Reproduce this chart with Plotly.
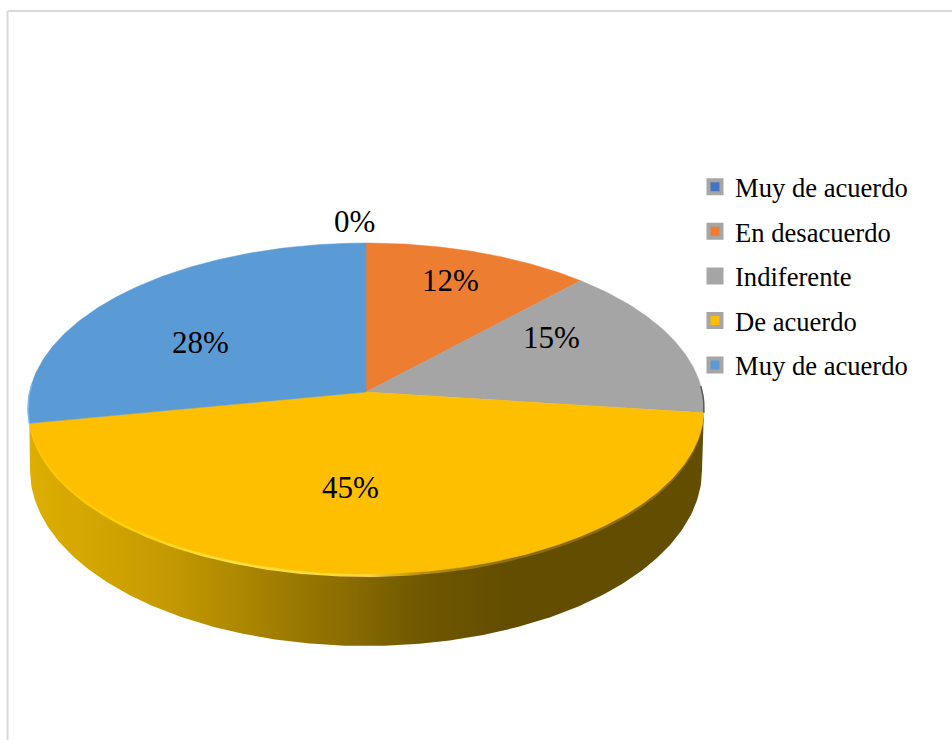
import numpy as np
import plotly.graph_objects as go

# ---- data ----
categories = ["Muy de acuerdo", "En desacuerdo", "Indiferente", "De acuerdo", "Muy de acuerdo"]
values = [0, 12, 15, 45, 28]
colors = ["#4472C4", "#ED7D31", "#A5A5A5", "#FDBF00", "#5B9BD5"]

# ---- layout / style settings ----
FONT = "Liberation Serif"
label_x = [354, 450, 551, 350, 200]
label_y = [221, 280, 337, 487, 342]
CX, CY = 366.0, 392.0        # projected pie centre
D, A, C = 336.3, 163.85, 0.0997   # perspective of the disc
BOT_CY, BOT_RX, BOT_RY = 470.0, 336.0, 176.0  # lower edge of the wall
wall_stops = [(0.0, "#DCAE00"), (0.09, "#D4A600"), (0.20, "#C59A00"), (0.32, "#AB8600"),
              (0.45, "#8F7000"), (0.58, "#705800"), (0.71, "#634D00"), (1.0, "#634D00")]
rim_stops = [(0.0, "#FFC800"), (0.12, "#FFD000"), (0.30, "#FFE040"), (0.50, "#FFD83A"),
             (0.58, "#B89000"), (0.72, "#8A6C00"), (1.0, "#8A6C00")]


def project(frac):
    """Disc edge at a clockwise share of the circle from 12 o'clock, to screen axes."""
    a = 2 * np.pi * np.asarray(frac)
    u, v = np.sin(a), np.cos(a)
    w = 1 + C * v
    return CX + D * u / w, CY - A * v / w


cum = np.concatenate([[0], np.cumsum(values)]) / sum(values)
fig = go.Figure()

# wall under the front arc: it belongs to the "De acuerdo" slice
t = np.linspace(cum[3], cum[4], 240)
ax, ay = project(t)
bx = np.clip(ax, CX - BOT_RX, CX + BOT_RX)
by = BOT_CY + BOT_RY * np.sqrt(np.clip(1 - ((bx - CX) / BOT_RX) ** 2, 0, 1))
fig.add_trace(go.Scatter(
    x=np.concatenate([ax, bx[::-1]]), y=np.concatenate([ay, by[::-1]]),
    mode="lines", line=dict(width=0), fill="toself",
    fillgradient=dict(type="horizontal", colorscale=[list(s) for s in wall_stops]),
    hoverinfo="skip", showlegend=False))

# light rim of the front arc
fig.add_trace(go.Scatter(
    x=np.concatenate([ax, ax[::-1]]), y=np.concatenate([ay - 0.5, ay[::-1] + 3.0]),
    mode="lines", line=dict(width=0), fill="toself",
    fillgradient=dict(type="horizontal", colorscale=[list(s) for s in rim_stops]),
    hoverinfo="skip", showlegend=False))

# top face, one polygon per slice
for i, (name, val, col) in enumerate(zip(categories, values, colors)):
    n = max(2, int(val * 6))
    sx, sy = project(np.linspace(cum[i], cum[i + 1], n))
    fig.add_trace(go.Scatter(
        x=np.concatenate([[CX], sx, [CX]]), y=np.concatenate([[CY], sy, [CY]]),
        mode="lines", line=dict(width=0.5, color=col), fill="toself", fillcolor=col,
        name=name, text=f"{name}: {val}%", hoverinfo="text", hoveron="fills",
        showlegend=False))

# thin edges seen beside the top face at both ends of the wall
ex, ey = project(np.linspace(cum[2] + 0.0, cum[3], 30))
fig.add_trace(go.Scatter(x=ex[ex > 700], y=ey[ex > 700], mode="lines",
                         line=dict(width=1.5, color="#5A5A5A"), hoverinfo="skip", showlegend=False))
ex, ey = project(np.linspace(cum[4], cum[5], 60))
fig.add_trace(go.Scatter(x=ex[ex < 32], y=ey[ex < 32], mode="lines",
                         line=dict(width=1.5, color="#7DB8F0"), hoverinfo="skip", showlegend=False))

# legend entries
for i, (name, col) in enumerate(zip(categories, colors)):
    fig.add_trace(go.Scatter(
        x=[None], y=[None], mode="markers", name=name, legendgroup=f"g{i}",
        marker=dict(symbol="square", size=13, color=col, line=dict(width=4, color="#A6A6A6"))))

annotations = [
    dict(x=lx, y=ly, text=f"{v}%", xref="x", yref="y", showarrow=False,
         xanchor="center", yanchor="middle", font=dict(family=FONT, size=31, color="#000000"))
    for lx, ly, v in zip(label_x, label_y, values)
]

fig.update_layout(
    width=952, height=740, margin=dict(l=0, r=0, t=0, b=0),
    paper_bgcolor="#FFFFFF", plot_bgcolor="#FFFFFF",
    xaxis=dict(range=[0, 952], visible=False, fixedrange=True),
    yaxis=dict(range=[740, 0], visible=False, fixedrange=True),
    font=dict(family=FONT, color="#000000"),
    annotations=annotations,
    legend=dict(x=695 / 952, y=1 - 163 / 740, xanchor="left", yanchor="top",
                font=dict(family=FONT, size=26.6, color="#000000"),
                tracegroupgap=7, bgcolor="rgba(0,0,0,0)"),
    shapes=[
        dict(type="line", xref="x", yref="y", x0=7.5, x1=952, y0=11, y1=11,
             line=dict(color="#D9D9D9", width=2), layer="below"),
        dict(type="line", xref="x", yref="y", x0=7.5, x1=7.5, y0=11, y1=740,
             line=dict(color="#D9D9D9", width=2), layer="below"),
    ],
)

fig.write_html("out.html", config={"displayModeBar": False},
               post_script="document.body.style.margin='0';document.body.style.overflow='hidden';")
